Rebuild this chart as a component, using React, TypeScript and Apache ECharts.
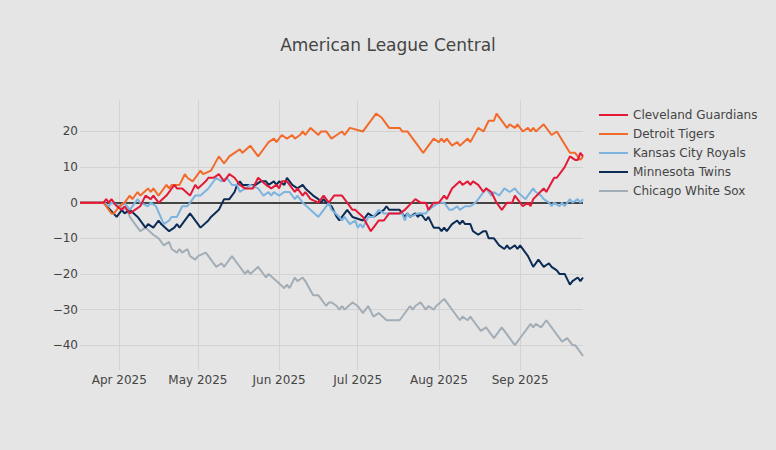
import React, { useEffect, useRef } from "react";
import * as echarts from "echarts";

const FONT = "'DejaVu Sans', Verdana, sans-serif";

const teamNames = [
  "Cleveland Guardians",
  "Detroit Tigers",
  "Kansas City Royals",
  "Minnesota Twins",
  "Chicago White Sox",
];
const teamColors = ["#E31937", "#F26B2B", "#7DB3DF", "#0C2C56", "#A3ADB6"];

const clevelandGuardians: [string, number][] = [
  ["2025-03-17", 0], ["2025-03-26", 0], ["2025-03-27", 1], ["2025-03-28", 0], ["2025-03-29", 1],
  ["2025-03-31", -1], ["2025-04-02", -2], ["2025-04-03", -1], ["2025-04-05", -3], ["2025-04-09", -1],
  ["2025-04-11", 2], ["2025-04-13", 1], ["2025-04-14", 2], ["2025-04-16", 0], ["2025-04-19", 2],
  ["2025-04-22", 5], ["2025-04-23", 4], ["2025-04-25", 4], ["2025-04-28", 2], ["2025-04-30", 5],
  ["2025-05-01", 4], ["2025-05-04", 6], ["2025-05-05", 7], ["2025-05-07", 7], ["2025-05-09", 8],
  ["2025-05-11", 6], ["2025-05-13", 8], ["2025-05-15", 7], ["2025-05-17", 5], ["2025-05-19", 4],
  ["2025-05-22", 4], ["2025-05-24", 7], ["2025-05-27", 5], ["2025-05-29", 4], ["2025-05-31", 5],
  ["2025-06-01", 4], ["2025-06-02", 6], ["2025-06-04", 6], ["2025-06-07", 3], ["2025-06-08", 4],
  ["2025-06-10", 2], ["2025-06-11", 3], ["2025-06-13", 1], ["2025-06-16", 0], ["2025-06-18", 2],
  ["2025-06-20", 0], ["2025-06-22", 2], ["2025-06-25", 2], ["2025-06-27", 0], ["2025-06-29", -2],
  ["2025-06-30", -2], ["2025-07-03", -4], ["2025-07-06", -8], ["2025-07-08", -6], ["2025-07-09", -5],
  ["2025-07-11", -5], ["2025-07-13", -3], ["2025-07-17", -3], ["2025-07-19", -2], ["2025-07-23", 1],
  ["2025-07-25", 0], ["2025-07-27", 0], ["2025-07-28", -2], ["2025-07-30", 0], ["2025-08-01", 0],
  ["2025-08-03", 2], ["2025-08-04", 1], ["2025-08-06", 4], ["2025-08-09", 6], ["2025-08-10", 5],
  ["2025-08-12", 6], ["2025-08-13", 5], ["2025-08-14", 6], ["2025-08-16", 5], ["2025-08-18", 3],
  ["2025-08-19", 4], ["2025-08-21", 3], ["2025-08-23", 0], ["2025-08-25", -2], ["2025-08-27", 0],
  ["2025-08-29", 0], ["2025-08-30", 2], ["2025-08-31", 1], ["2025-09-01", 0], ["2025-09-02", -1],
  ["2025-09-04", 0], ["2025-09-05", -1], ["2025-09-06", 1], ["2025-09-10", 4], ["2025-09-11", 3],
  ["2025-09-14", 7], ["2025-09-15", 7], ["2025-09-18", 10], ["2025-09-20", 13], ["2025-09-22", 12],
  ["2025-09-23", 12], ["2025-09-24", 14], ["2025-09-25", 13],
];

const detroitTigers: [string, number][] = [
  ["2025-03-17", 0], ["2025-03-26", 0], ["2025-03-29", -3], ["2025-03-30", -3], ["2025-04-01", -1],
  ["2025-04-03", 0], ["2025-04-05", 2], ["2025-04-06", 1], ["2025-04-08", 3], ["2025-04-09", 2],
  ["2025-04-12", 4], ["2025-04-13", 3], ["2025-04-14", 4], ["2025-04-16", 2], ["2025-04-19", 5],
  ["2025-04-20", 4], ["2025-04-21", 5], ["2025-04-24", 5], ["2025-04-26", 8], ["2025-04-27", 7],
  ["2025-04-29", 6], ["2025-05-02", 9], ["2025-05-03", 8], ["2025-05-06", 9], ["2025-05-09", 13],
  ["2025-05-11", 11], ["2025-05-13", 13], ["2025-05-15", 14], ["2025-05-17", 15], ["2025-05-18", 14],
  ["2025-05-21", 16], ["2025-05-24", 13], ["2025-05-26", 15], ["2025-05-28", 17], ["2025-05-30", 18],
  ["2025-05-31", 17], ["2025-06-02", 19], ["2025-06-04", 18], ["2025-06-06", 19], ["2025-06-07", 18],
  ["2025-06-09", 19], ["2025-06-10", 20], ["2025-06-11", 19], ["2025-06-13", 21], ["2025-06-16", 19],
  ["2025-06-17", 20], ["2025-06-19", 20], ["2025-06-21", 18], ["2025-06-23", 19], ["2025-06-25", 20],
  ["2025-06-26", 19], ["2025-06-28", 21], ["2025-07-03", 20], ["2025-07-08", 25], ["2025-07-10", 24],
  ["2025-07-13", 21], ["2025-07-17", 21], ["2025-07-18", 20], ["2025-07-20", 20], ["2025-07-22", 18],
  ["2025-07-24", 16], ["2025-07-26", 14], ["2025-07-30", 18], ["2025-08-01", 17], ["2025-08-02", 18],
  ["2025-08-03", 17], ["2025-08-04", 18], ["2025-08-06", 16], ["2025-08-08", 17], ["2025-08-09", 16],
  ["2025-08-12", 18], ["2025-08-13", 17], ["2025-08-16", 21], ["2025-08-18", 20], ["2025-08-20", 23],
  ["2025-08-22", 23], ["2025-08-23", 25], ["2025-08-27", 21], ["2025-08-28", 22], ["2025-08-30", 21],
  ["2025-08-31", 22], ["2025-09-02", 20], ["2025-09-04", 21], ["2025-09-05", 20], ["2025-09-06", 21],
  ["2025-09-07", 20], ["2025-09-10", 22], ["2025-09-13", 19], ["2025-09-15", 20], ["2025-09-20", 14],
  ["2025-09-22", 14], ["2025-09-23", 13], ["2025-09-24", 12], ["2025-09-25", 13],
];

const kansasCityRoyals: [string, number][] = [
  ["2025-03-17", 0], ["2025-03-26", 0], ["2025-03-28", -1], ["2025-03-29", 0], ["2025-04-01", -1],
  ["2025-04-03", 0], ["2025-04-05", -2], ["2025-04-08", 1], ["2025-04-09", 0], ["2025-04-12", -1],
  ["2025-04-13", 0], ["2025-04-15", -1], ["2025-04-18", -6], ["2025-04-20", -5], ["2025-04-21", -4],
  ["2025-04-23", -4], ["2025-04-25", -1], ["2025-04-27", -1], ["2025-04-28", 0], ["2025-04-30", 2],
  ["2025-05-02", 2], ["2025-05-05", 4], ["2025-05-08", 7], ["2025-05-10", 6], ["2025-05-12", 7],
  ["2025-05-14", 5], ["2025-05-16", 5], ["2025-05-17", 3], ["2025-05-19", 4], ["2025-05-21", 5],
  ["2025-05-24", 4], ["2025-05-25", 3], ["2025-05-26", 2], ["2025-05-28", 3], ["2025-05-29", 2],
  ["2025-05-30", 3], ["2025-06-01", 2], ["2025-06-03", 3], ["2025-06-05", 3], ["2025-06-07", 1],
  ["2025-06-08", 2], ["2025-06-10", 0], ["2025-06-16", -4], ["2025-06-18", -2], ["2025-06-20", 0],
  ["2025-06-21", -2], ["2025-06-24", -4], ["2025-06-25", -5], ["2025-06-26", -4], ["2025-06-28", -6],
  ["2025-06-30", -5], ["2025-07-01", -7], ["2025-07-02", -6], ["2025-07-03", -7], ["2025-07-05", -4],
  ["2025-07-07", -4], ["2025-07-09", -2], ["2025-07-11", -3], ["2025-07-18", -3], ["2025-07-19", -5],
  ["2025-07-20", -3], ["2025-07-21", -4], ["2025-07-24", -3], ["2025-07-27", -3], ["2025-07-28", -2],
  ["2025-07-30", -1], ["2025-08-01", 0], ["2025-08-03", 0], ["2025-08-05", -2], ["2025-08-06", -2],
  ["2025-08-08", -1], ["2025-08-09", -2], ["2025-08-11", -1], ["2025-08-13", -1], ["2025-08-15", 0],
  ["2025-08-17", 2], ["2025-08-19", 4], ["2025-08-21", 2], ["2025-08-22", 3], ["2025-08-24", 2],
  ["2025-08-26", 4], ["2025-08-28", 3], ["2025-08-30", 4], ["2025-08-31", 3], ["2025-09-03", 1],
  ["2025-09-06", 4], ["2025-09-07", 3], ["2025-09-09", 2], ["2025-09-10", 1], ["2025-09-12", 0],
  ["2025-09-13", -1], ["2025-09-14", 0], ["2025-09-16", -1], ["2025-09-17", 0], ["2025-09-18", -1],
  ["2025-09-20", 1], ["2025-09-21", 0], ["2025-09-23", 1], ["2025-09-24", 0], ["2025-09-25", 1],
];

const minnesotaTwins: [string, number][] = [
  ["2025-03-17", 0], ["2025-03-26", 0], ["2025-03-31", -4], ["2025-04-02", -2], ["2025-04-03", -3],
  ["2025-04-05", -2], ["2025-04-08", -4], ["2025-04-11", -7], ["2025-04-12", -6], ["2025-04-14", -7],
  ["2025-04-16", -5], ["2025-04-17", -6], ["2025-04-20", -8], ["2025-04-22", -7], ["2025-04-23", -6],
  ["2025-04-24", -7], ["2025-04-28", -3], ["2025-05-02", -7], ["2025-05-05", -5], ["2025-05-06", -4],
  ["2025-05-09", -2], ["2025-05-11", 1], ["2025-05-13", 1], ["2025-05-15", 3], ["2025-05-16", 5],
  ["2025-05-17", 6], ["2025-05-18", 5], ["2025-05-23", 5], ["2025-05-25", 6], ["2025-05-27", 6],
  ["2025-05-28", 5], ["2025-05-30", 6], ["2025-05-31", 5], ["2025-06-01", 6], ["2025-06-03", 5],
  ["2025-06-04", 7], ["2025-06-06", 5], ["2025-06-08", 4], ["2025-06-10", 5], ["2025-06-11", 4],
  ["2025-06-14", 2], ["2025-06-16", 1], ["2025-06-17", 0], ["2025-06-18", 1], ["2025-06-19", 0],
  ["2025-06-21", -1], ["2025-06-23", -4], ["2025-06-24", -5], ["2025-06-25", -4], ["2025-06-27", -2],
  ["2025-06-29", -4], ["2025-07-03", -5], ["2025-07-05", -3], ["2025-07-07", -4], ["2025-07-09", -3],
  ["2025-07-11", -2], ["2025-07-12", -1], ["2025-07-13", -2], ["2025-07-17", -2], ["2025-07-19", -4],
  ["2025-07-20", -3], ["2025-07-21", -4], ["2025-07-23", -3], ["2025-07-24", -4], ["2025-07-25", -3],
  ["2025-07-27", -5], ["2025-07-28", -4], ["2025-07-30", -7], ["2025-08-01", -7], ["2025-08-02", -8],
  ["2025-08-03", -7], ["2025-08-04", -8], ["2025-08-06", -6], ["2025-08-08", -5], ["2025-08-09", -6],
  ["2025-08-10", -5], ["2025-08-11", -6], ["2025-08-13", -6], ["2025-08-14", -8], ["2025-08-16", -9],
  ["2025-08-18", -8], ["2025-08-19", -8], ["2025-08-20", -10], ["2025-08-22", -10], ["2025-08-24", -12],
  ["2025-08-26", -13], ["2025-08-27", -12], ["2025-08-28", -13], ["2025-08-30", -12], ["2025-08-31", -13],
  ["2025-09-01", -12], ["2025-09-04", -15], ["2025-09-06", -18], ["2025-09-08", -16], ["2025-09-10", -18],
  ["2025-09-12", -17], ["2025-09-13", -18], ["2025-09-15", -19], ["2025-09-16", -20], ["2025-09-18", -20],
  ["2025-09-20", -23], ["2025-09-21", -22], ["2025-09-23", -21], ["2025-09-24", -22], ["2025-09-25", -21],
];

const chicagoWhiteSox: [string, number][] = [
  ["2025-03-17", 0], ["2025-03-26", 0], ["2025-03-28", -1], ["2025-03-29", 0], ["2025-04-01", -1],
  ["2025-04-04", -2], ["2025-04-05", -4], ["2025-04-07", -6], ["2025-04-09", -8], ["2025-04-11", -7],
  ["2025-04-14", -9], ["2025-04-16", -10], ["2025-04-18", -12], ["2025-04-20", -11], ["2025-04-21", -13],
  ["2025-04-23", -14], ["2025-04-24", -13], ["2025-04-25", -14], ["2025-04-27", -13], ["2025-04-28", -15],
  ["2025-04-30", -16], ["2025-05-01", -15], ["2025-05-04", -14], ["2025-05-05", -15], ["2025-05-06", -16],
  ["2025-05-08", -18], ["2025-05-10", -17], ["2025-05-11", -18], ["2025-05-12", -17], ["2025-05-14", -15],
  ["2025-05-16", -17], ["2025-05-19", -20], ["2025-05-20", -19], ["2025-05-21", -20], ["2025-05-24", -18],
  ["2025-05-27", -21], ["2025-05-28", -20], ["2025-05-31", -22], ["2025-06-03", -24], ["2025-06-04", -23],
  ["2025-06-05", -24], ["2025-06-07", -21], ["2025-06-08", -22], ["2025-06-10", -21], ["2025-06-11", -22],
  ["2025-06-14", -26], ["2025-06-16", -26], ["2025-06-17", -27], ["2025-06-19", -29], ["2025-06-20", -28],
  ["2025-06-21", -28], ["2025-06-23", -29], ["2025-06-24", -30], ["2025-06-25", -29], ["2025-06-26", -30],
  ["2025-06-29", -28], ["2025-07-01", -29], ["2025-07-03", -31], ["2025-07-05", -29], ["2025-07-07", -32],
  ["2025-07-09", -31], ["2025-07-12", -33], ["2025-07-17", -33], ["2025-07-21", -29], ["2025-07-22", -30],
  ["2025-07-23", -29], ["2025-07-25", -28], ["2025-07-27", -30], ["2025-07-28", -29], ["2025-07-30", -30],
  ["2025-07-31", -29], ["2025-08-03", -27], ["2025-08-04", -28], ["2025-08-05", -29], ["2025-08-09", -33],
  ["2025-08-10", -32], ["2025-08-12", -33], ["2025-08-13", -32], ["2025-08-14", -33], ["2025-08-17", -36],
  ["2025-08-19", -35], ["2025-08-22", -38], ["2025-08-25", -35], ["2025-08-29", -39], ["2025-08-30", -40],
  ["2025-09-02", -37], ["2025-09-05", -34], ["2025-09-06", -35], ["2025-09-07", -34], ["2025-09-09", -35],
  ["2025-09-11", -33], ["2025-09-15", -37], ["2025-09-17", -39], ["2025-09-19", -38], ["2025-09-21", -40],
  ["2025-09-22", -40], ["2025-09-25", -43],
];

const teamSeries = [clevelandGuardians, detroitTigers, kansasCityRoyals, minnesotaTwins, chicagoWhiteSox];

const xStart = "2025-03-17";
const xEnd = "2025-09-25";
const xTickDates = ["2025-04-01", "2025-05-01", "2025-06-01", "2025-07-01", "2025-08-01", "2025-09-01"];
const xTickLabels = ["Apr 2025", "May 2025", "Jun 2025", "Jul 2025", "Aug 2025", "Sep 2025"];
const yTickValues = [-40, -30, -20, -10, 0, 10, 20];
const yMin = -46.97;
const yMax = 28.83;

function toTs(s: string): number {
  const [y, m, d] = s.split("-").map(Number);
  return new Date(y, m - 1, d).getTime();
}

export default function App() {
  const ref = useRef<HTMLDivElement>(null);

  useEffect(() => {
    if (!ref.current) return;
    const chart = echarts.init(ref.current, undefined, { renderer: "svg" });
    const xTickTs = xTickDates.map(toTs);
    const txt = { fontFamily: FONT, fontSize: 12, color: "#444" };

    const series: any[] = teamNames.map((name, i) => ({
      name,
      type: "line",
      data: teamSeries[i].map(([d, v]) => [toTs(d), v]),
      showSymbol: false,
      symbol: "none",
      lineStyle: { width: 2, color: teamColors[i] },
      itemStyle: { color: teamColors[i] },
      z: 10 - i,
      emphasis: { disabled: true },
      ...(i === teamNames.length - 1
        ? {
            markLine: {
              silent: true,
              symbol: ["none", "none"],
              label: { show: false },
              z: 1,
              lineStyle: { color: "#444", width: 2, type: "solid" },
              emphasis: { disabled: true },
              data: [{ yAxis: 0 }],
            },
          }
        : {}),
    }));

    chart.setOption({
      animation: false,
      backgroundColor: "#e5e5e5",
      textStyle: { fontFamily: FONT },
      title: {
        text: "American League Central",
        left: "center",
        top: 31,
        textStyle: { fontFamily: FONT, fontSize: 17, fontWeight: "normal", color: "#444" },
      },
      legend: {
        orient: "vertical",
        left: 594,
        top: 104,
        icon: "rect",
        itemWidth: 29,
        itemHeight: 2,
        itemGap: 7,
        data: teamNames,
        textStyle: txt,
      },
      grid: { left: 80, top: 100, width: 503, height: 270, containLabel: false },
      xAxis: {
        type: "value",
        min: toTs(xStart),
        max: toTs(xEnd),
        axisLine: { show: false },
        axisTick: { show: false, customValues: xTickTs },
        axisLabel: {
          customValues: xTickTs,
          margin: 4,
          ...txt,
          formatter: (v: number) => {
            const i = xTickTs.findIndex((t) => Math.abs(t - v) < 12 * 3600e3);
            return i >= 0 ? xTickLabels[i] : "";
          },
        },
        splitLine: { show: true, lineStyle: { color: "#d2d2d2", width: 1 } },
      },
      yAxis: {
        type: "value",
        min: yMin,
        max: yMax,
        axisLine: { show: false },
        axisTick: { show: false, customValues: yTickValues },
        axisLabel: {
          customValues: yTickValues,
          margin: 2,
          ...txt,
          formatter: (v: number) => (v < 0 ? "\u2212" + Math.abs(v) : String(v)),
        },
        splitLine: { show: true, lineStyle: { color: "#d2d2d2", width: 1 } },
      },
      series,
    });
    return () => chart.dispose();
  }, []);

  return (
    <div
      ref={ref}
      style={{ position: "fixed", left: 0, top: 0, width: 776, height: 450 }}
    />
  );
}
